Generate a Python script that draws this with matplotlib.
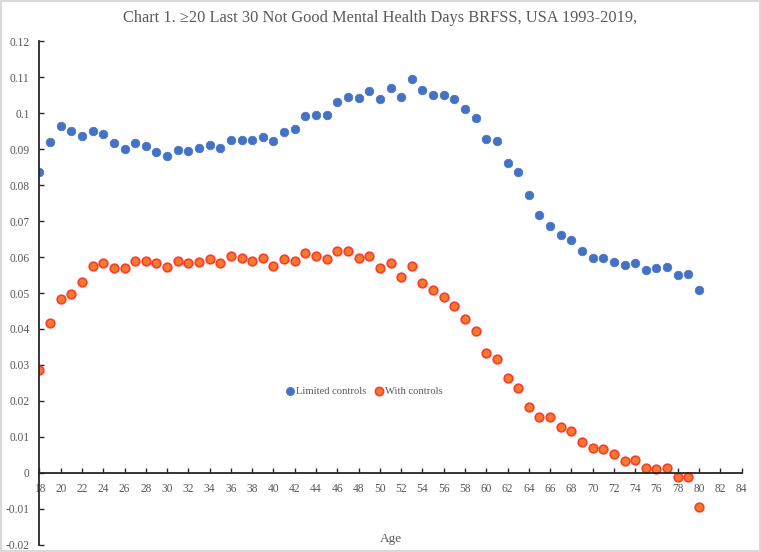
import matplotlib
matplotlib.use("Agg")
import matplotlib.pyplot as plt
from matplotlib.patches import Rectangle

ages = list(range(18, 81))

limited_controls = [
    0.0837, 0.0919, 0.0964, 0.0949, 0.0937, 0.0949, 0.0941, 0.0916, 0.0899, 0.0916,
    0.0907, 0.0893, 0.0881, 0.0897, 0.0894, 0.0902, 0.0910, 0.0902, 0.0924, 0.0924,
    0.0924, 0.0934, 0.0921, 0.0948, 0.0955, 0.0991, 0.0994, 0.0994, 0.1031, 0.1045,
    0.1043, 0.1060, 0.1040, 0.1069, 0.1044, 0.1095, 0.1065, 0.1050, 0.1051, 0.1039,
    0.1012, 0.0986, 0.0929, 0.0923, 0.0861, 0.0836, 0.0772, 0.0717, 0.0687, 0.0661,
    0.0647, 0.0618, 0.0598, 0.0597, 0.0585, 0.0577, 0.0583, 0.0563, 0.0569, 0.0571,
    0.0551, 0.0553, 0.0507,
]

with_controls = [
    0.0286, 0.0416, 0.0482, 0.0496, 0.0530, 0.0574, 0.0582, 0.0570, 0.0570, 0.0590,
    0.0590, 0.0582, 0.0572, 0.0589, 0.0582, 0.0585, 0.0594, 0.0583, 0.0602, 0.0597,
    0.0589, 0.0596, 0.0575, 0.0594, 0.0588, 0.0612, 0.0603, 0.0594, 0.0618, 0.0617,
    0.0597, 0.0602, 0.0570, 0.0582, 0.0544, 0.0574, 0.0529, 0.0508, 0.0489, 0.0465,
    0.0429, 0.0394, 0.0332, 0.0317, 0.0263, 0.0237, 0.0184, 0.0156, 0.0156, 0.0129,
    0.0116, 0.0087, 0.0069, 0.0067, 0.0052, 0.0033, 0.0036, 0.0013, 0.0010, 0.0014,
    -0.0012, -0.0012, -0.0094,
]

x_ticks = list(range(18, 85, 2))
y_ticks = [-0.02, -0.01, 0, 0.01, 0.02, 0.03, 0.04, 0.05, 0.06, 0.07, 0.08, 0.09, 0.1, 0.11, 0.12]
y_tick_labels = ["-0.02", "-0.01", "0", "0.01", "0.02", "0.03", "0.04", "0.05", "0.06",
                 "0.07", "0.08", "0.09", "0.1", "0.11", "0.12"]

title = "Chart 1. \u226520 Last 30 Not Good Mental Health Days BRFSS, USA 1993-2019,"

plt.rcParams['font.family'] = ['Liberation Serif', 'DejaVu Serif']
text_color = "#595959"

fig = plt.figure(figsize=(7.61, 5.52), dpi=100)
fig.patches.append(Rectangle((0.001, 0.001), 0.998, 0.997, transform=fig.transFigure,
                             fill=False, edgecolor="#D9D9D9", linewidth=1.5))
ax = fig.add_axes([0.0518, 0.0127, 0.9227, 0.913])

ax.plot(ages, limited_controls, linestyle="none", marker="o", markersize=6.2,
        markerfacecolor="#4472C4", markeredgecolor="#4472C4", markeredgewidth=0.5,
        label="Limited controls")
ax.plot(ages, with_controls, linestyle="none", marker="o", markersize=6.2,
        markerfacecolor="#F07C30", markeredgecolor="#FF3A2A", markeredgewidth=1.2,
        label="With controls")

ax.set_xlim(18, 84)
ax.set_ylim(-0.02, 0.12)
ax.set_xticks(x_ticks)
ax.set_xticklabels([str(t) for t in x_ticks])
ax.set_yticks(y_ticks)
ax.set_yticklabels(y_tick_labels)

for s in ["top", "right"]:
    ax.spines[s].set_visible(False)
ax.spines["bottom"].set_position(("data", 0))
ax.spines["bottom"].set_color("#262626")
ax.spines["left"].set_color("#262626")
ax.spines["bottom"].set_linewidth(1.3)
ax.spines["left"].set_linewidth(1.3)

ax.tick_params(axis="both", direction="in", length=3.5, width=1.0, color="#262626",
               labelsize=8.3, labelcolor=text_color)
ax.tick_params(axis="y", pad=7)
ax.tick_params(axis="x", pad=7)

ax.text(0.5, 0.011, "Age", transform=ax.transAxes, ha="center", va="center",
        fontsize=9.5, color=text_color)

fig.text(0.5, 0.967, title, ha="center", va="center", fontsize=11.8, color=text_color)

leg = ax.legend(loc="center", bbox_to_anchor=(0.462, 0.304), ncol=2, frameon=False,
                fontsize=7.6, handletextpad=0.05, columnspacing=0.7, handlelength=1.0,
                markerscale=0.95)
for t in leg.get_texts():
    t.set_color(text_color)

fig.savefig("out.png", dpi=100)
